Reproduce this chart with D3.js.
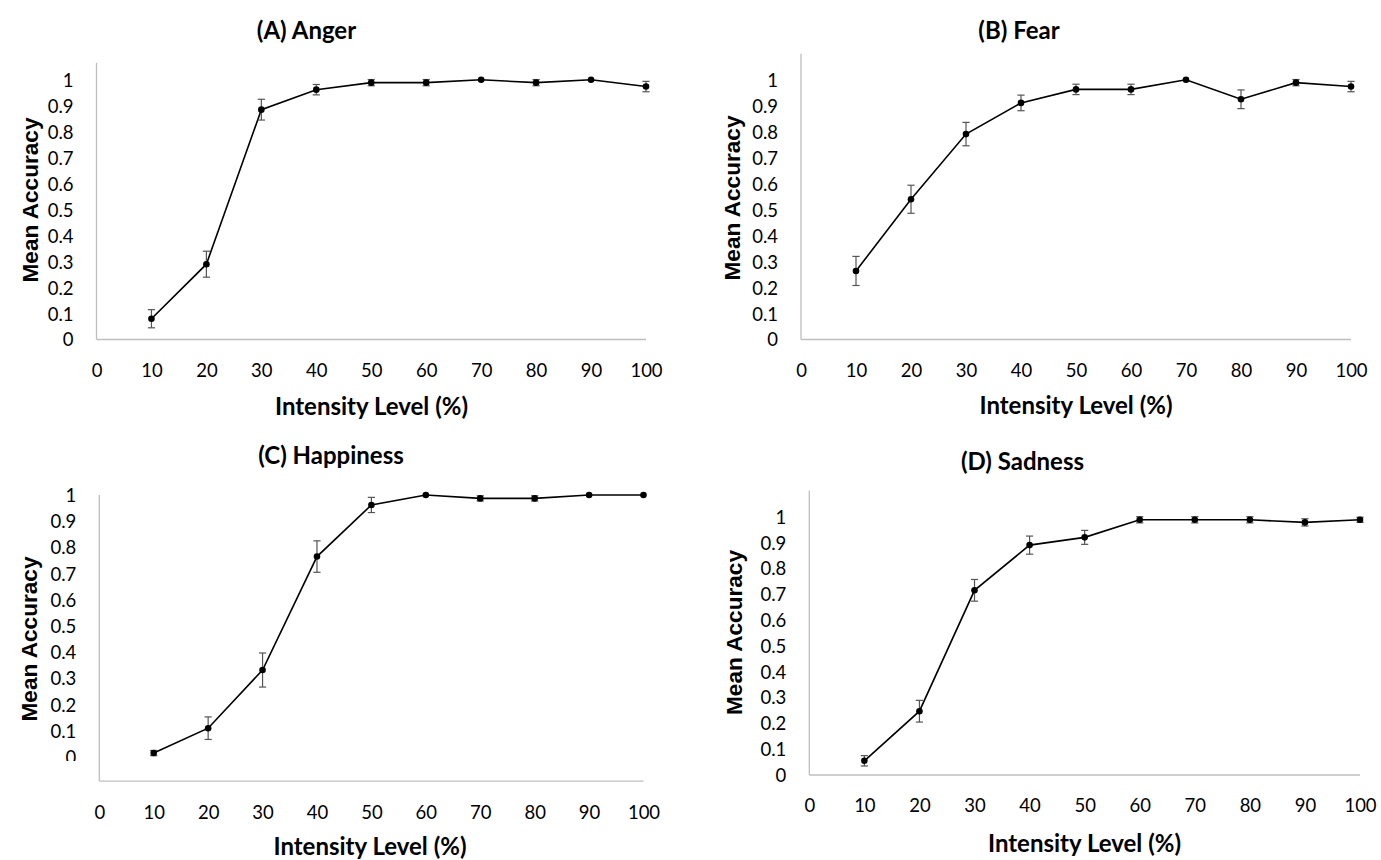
<!DOCTYPE html>
<html>
<head>
<meta charset="utf-8">
<script src="https://cdn.jsdelivr.net/npm/d3@7"></script>
<style>
  html, body { margin: 0; padding: 0; background: #fff; }
  svg { display: block; }
  .tick-label { font-family: Lato, "Open Sans", sans-serif; font-size: 18.5px; fill: #000; }
  .panel-title, .x-title { font-family: Lato, "Open Sans", sans-serif; font-weight: 700; font-size: 24px; fill: #000; }
  .y-title { font-family: "Liberation Sans", Arial, sans-serif; font-weight: 700; font-size: 22.6px; fill: #000; }
</style>
</head>
<body>
<svg id="chart" width="1381" height="860"></svg>
<script>
// ---------------- data ----------------
const levels = [10, 20, 30, 40, 50, 60, 70, 80, 90, 100];
const xTickValues = [0, 10, 20, 30, 40, 50, 60, 70, 80, 90, 100];
const yTickValues = [0, 0.1, 0.2, 0.3, 0.4, 0.5, 0.6, 0.7, 0.8, 0.9, 1];

const panelTitles = ["(A) Anger", "(B) Fear", "(C) Happiness", "(D) Sadness"];
const xAxisTitle = "Intensity Level (%)";
const yAxisTitle = "Mean Accuracy";

const angerMean = [0.08, 0.29, 0.885, 0.962, 0.989, 0.989, 1.0, 0.989, 1.0, 0.974];
const angerErr  = [0.035, 0.05, 0.04, 0.02, 0.012, 0.012, 0.0, 0.012, 0.0, 0.02];

const fearMean = [0.264, 0.54, 0.791, 0.911, 0.963, 0.963, 1.0, 0.925, 0.989, 0.974];
const fearErr  = [0.056, 0.054, 0.045, 0.03, 0.02, 0.02, 0.0, 0.036, 0.012, 0.02];

const happinessMean = [0.015, 0.11, 0.332, 0.765, 0.962, 1.0, 0.987, 0.987, 1.0, 1.0];
const happinessErr  = [0.01, 0.043, 0.065, 0.06, 0.029, 0.0, 0.01, 0.01, 0.0, 0.0];

const sadnessMean = [0.055, 0.247, 0.715, 0.89, 0.92, 0.988, 0.988, 0.988, 0.978, 0.988];
const sadnessErr  = [0.02, 0.042, 0.042, 0.035, 0.027, 0.012, 0.012, 0.012, 0.014, 0.01];

// ---------------- layout ----------------
const panels = [
  { title: panelTitles[0], mean: angerMean, err: angerErr,
    xr: [96.5, 646], yr: [339.5, 79.8], yLow: 0, yHigh: 1.066,
    titlePos: [306.5, 30], xTitlePos: [371.5, 406.5], yTitlePos: [30, 200], clipBottom: null },
  { title: panelTitles[1], mean: fearMean, err: fearErr,
    xr: [801, 1351], yr: [339.5, 79.8], yLow: 0, yHigh: 1.1,
    titlePos: [1019, 30], xTitlePos: [1076, 405.5], yTitlePos: [732, 198], clipBottom: null },
  { title: panelTitles[2], mean: happinessMean, err: happinessErr,
    xr: [99.3, 643.5], yr: [757, 495], yLow: -0.092, yHigh: 1.0,
    titlePos: [331, 455], xTitlePos: [370, 846.5], yTitlePos: [29, 639], clipBottom: 761 },
  { title: panelTitles[3], mean: sadnessMean, err: sadnessErr,
    xr: [809.3, 1360], yr: [775, 516.7], yLow: 0, yHigh: 1.1,
    titlePos: [1022.5, 461.5], xTitlePos: [1084.5, 843], yTitlePos: [734, 632.5], clipBottom: null }
];

const svg = d3.select("#chart");
const defs = svg.append("defs");

panels.forEach((p, i) => {
  const x = d3.scaleLinear().domain([0, 100]).range(p.xr);
  const y = d3.scaleLinear().domain([0, 1]).range(p.yr);
  const g = svg.append("g").attr("class", "panel");

  // axis lines
  g.append("line")
    .attr("x1", x(0)).attr("x2", x(0))
    .attr("y1", y(p.yLow)).attr("y2", y(p.yHigh))
    .attr("stroke", "#bfbfbf").attr("stroke-width", 1.3);
  g.append("line")
    .attr("x1", x(0)).attr("x2", x(100))
    .attr("y1", y(p.yLow)).attr("y2", y(p.yLow))
    .attr("stroke", "#bfbfbf").attr("stroke-width", 1.3);

  // x axis labels (d3 axis, no ticks/domain)
  const xAxisG = g.append("g")
    .attr("transform", `translate(0,${y(p.yLow)})`)
    .call(d3.axisBottom(x).tickValues(xTickValues).tickSize(0).tickFormat(d => String(d)));
  xAxisG.select(".domain").remove();
  xAxisG.selectAll("text")
    .attr("class", "tick-label")
    .attr("y", 31).attr("dy", "0.35em")
    .attr("fill", null);
  xAxisG.attr("font-family", null).attr("font-size", null);

  // y axis labels
  const yAxisG = g.append("g")
    .attr("transform", `translate(${x(0)},0)`)
    .call(d3.axisLeft(y).tickValues(yTickValues).tickSize(0).tickFormat(d => String(d)));
  yAxisG.select(".domain").remove();
  yAxisG.selectAll("text")
    .attr("class", "tick-label")
    .attr("x", -23).attr("dy", "0.35em")
    .attr("fill", null);
  yAxisG.attr("font-family", null).attr("font-size", null);
  if (p.clipBottom !== null) {
    const cid = "clip-y-" + i;
    defs.append("clipPath").attr("id", cid)
      .append("rect")
      .attr("x", -200).attr("y", -1000)
      .attr("width", 400).attr("height", 1000 + p.clipBottom);
    yAxisG.attr("clip-path", `url(#${cid})`);
  }

  // titles
  g.append("text").attr("class", "panel-title")
    .attr("x", p.titlePos[0]).attr("y", p.titlePos[1])
    .attr("text-anchor", "middle").attr("dy", "0.36em")
    .text(p.title);
  g.append("text").attr("class", "x-title")
    .attr("x", p.xTitlePos[0]).attr("y", p.xTitlePos[1])
    .attr("text-anchor", "middle").attr("dy", "0.36em")
    .text(xAxisTitle);
  g.append("text").attr("class", "y-title")
    .attr("transform", `translate(${p.yTitlePos[0]},${p.yTitlePos[1]}) rotate(-90)`)
    .attr("text-anchor", "middle").attr("dy", "0.36em")
    .text(yAxisTitle);

  const pts = levels.map((lv, k) => ({ lv, m: p.mean[k], e: p.err[k] }));

  // line
  const line = d3.line().x(d => x(d.lv)).y(d => y(d.m));
  g.append("path").datum(pts)
    .attr("d", line)
    .attr("fill", "none").attr("stroke", "#000").attr("stroke-width", 1.6);

  // error bars
  const eb = g.append("g").attr("stroke", "#555").attr("stroke-width", 1.2);
  pts.filter(d => d.e > 0).forEach(d => {
    eb.append("line")
      .attr("x1", x(d.lv)).attr("x2", x(d.lv))
      .attr("y1", y(d.m + d.e)).attr("y2", y(d.m - d.e));
    [d.m + d.e, d.m - d.e].forEach(v => {
      eb.append("line")
        .attr("x1", x(d.lv) - 3.6).attr("x2", x(d.lv) + 3.6)
        .attr("y1", y(v)).attr("y2", y(v));
    });
  });

  // markers
  g.append("g").selectAll("circle").data(pts).join("circle")
    .attr("cx", d => x(d.lv)).attr("cy", d => y(d.m))
    .attr("r", 3.3).attr("fill", "#000");
});
</script>
</body>
</html>
